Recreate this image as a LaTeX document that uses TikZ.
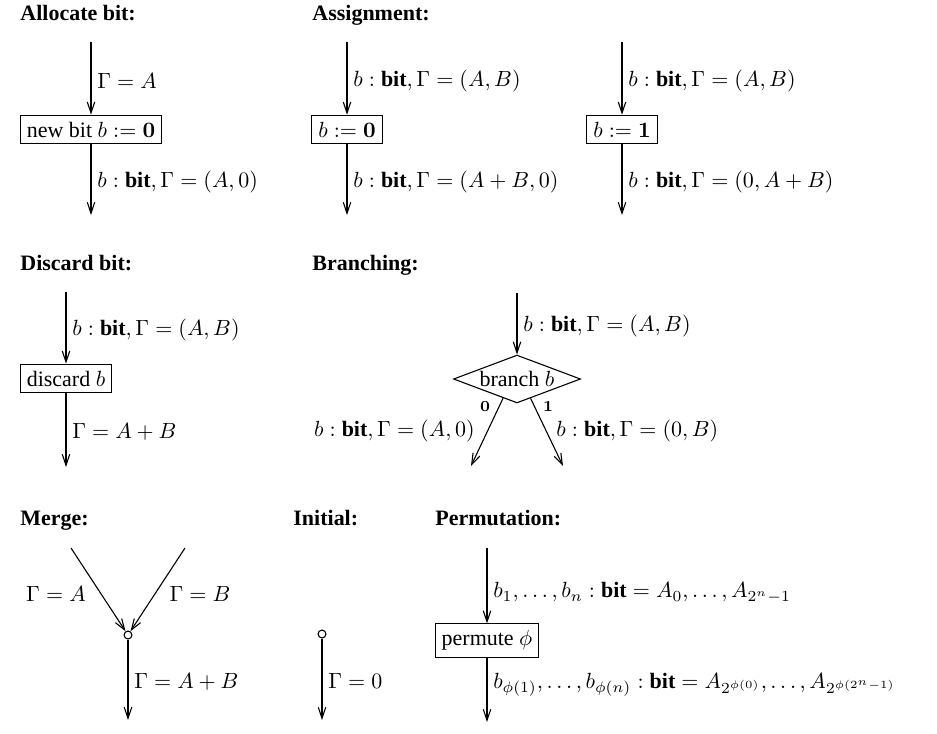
\documentclass[tikz,border=0pt]{standalone}
\usepackage[no-math]{fontspec}
\setmainfont{Liberation Serif}
\usetikzlibrary{arrows.meta,shapes.geometric}
\tikzset{
  hdr/.style={anchor=base west,inner sep=0pt,font=\bfseries},
  box/.style={draw,rectangle,inner sep=3pt,line width=0.5pt},
  dia/.style={draw,diamond,aspect=2.6,inner sep=0pt,minimum width=57.8pt,minimum height=21.8pt,line width=0.5pt},
  arr/.style={-{Straight Barb[length=5pt,width=3.4pt]},line width=0.5pt},
  lbl/.style={midway,right,inner sep=2.6pt,yshift=-1pt},
  dot/.style={draw,circle,inner sep=0pt,minimum size=3.6pt,line width=0.5pt,fill=white},
}
\begin{document}
\begin{tikzpicture}[x=0.455pt,y=-0.455pt]
\path[use as bounding box] (0,0) rectangle (937,733);
% Row 1: Allocate bit
\node[hdr] (h1) at (20,21) {Allocate bit:};
\coordinate (a0) at (91,42);
\node[box] (a1) at (91,129.5) {new bit $b := \mathbf{0}$};
\coordinate (a2) at (91,215);
\draw[arr] (a0) -- node[lbl]{$\Gamma = A$} (a1);
\draw[arr] (a1) -- node[lbl]{$b : \textbf{bit}, \Gamma = (A, 0)$} (a2);
% Assignment
\node[hdr] (h2) at (312,21) {Assignment:};
\coordinate (b0) at (347,42);
\node[box] (b1) at (347,129.5) {$b := \mathbf{0}$};
\coordinate (b2) at (347,215);
\draw[arr] (b0) -- node[lbl]{$b : \textbf{bit}, \Gamma = (A, B)$} (b1);
\draw[arr] (b1) -- node[lbl]{$b : \textbf{bit}, \Gamma = (A + B, 0)$} (b2);
\coordinate (c0) at (622,42);
\node[box] (c1) at (622,129.5) {$b := \mathbf{1}$};
\coordinate (c2) at (622,215);
\draw[arr] (c0) -- node[lbl]{$b : \textbf{bit}, \Gamma = (A, B)$} (c1);
\draw[arr] (c1) -- node[lbl]{$b : \textbf{bit}, \Gamma = (0, A + B)$} (c2);
% Row 2: Discard bit
\node[hdr] (h3) at (20,270) {Discard bit:};
\coordinate (d0) at (66,292);
\node[box] (d1) at (66,378.5) {discard $b$};
\coordinate (d2) at (66,467);
\draw[arr] (d0) -- node[lbl]{$b : \textbf{bit}, \Gamma = (A, B)$} (d1);
\draw[arr] (d1) -- node[lbl]{$\Gamma = A + B$} (d2);
% Branching
\node[hdr] (h4) at (312,270) {Branching:};
\coordinate (e0) at (517,293);
\node[dia] (e1) at (517,379) {branch $b$};
\coordinate (eL) at (471,466);
\coordinate (eR) at (563,466);
\draw[arr] (e0) -- node[lbl]{$b : \textbf{bit}, \Gamma = (A, B)$} (e1);
\draw[arr] (e1.234.6) -- (eL);
\draw[arr] (e1.305.4) -- (eR);
\node (z0) at (485,407) {$\scriptstyle\mathbf{0}$};
\node (z1) at (548,407) {$\scriptstyle\mathbf{1}$};
\node[anchor=east,inner sep=0pt] (lL) at (475,431) {$b : \textbf{bit}, \Gamma = (A, 0)$};
\node[anchor=west,inner sep=0pt] (lR) at (556,431) {$b : \textbf{bit}, \Gamma = (0, B)$};
% Row 3: Merge
\node[hdr] (h5) at (20,525) {Merge:};
\coordinate (m0) at (71,548);
\coordinate (m1) at (185,548);
\node[dot] (m) at (128,635) {};
\coordinate (m2) at (128,720);
\draw[arr] (m0) -- (m);
\draw[arr] (m1) -- (m);
\draw[arr] (m) -- node[lbl]{$\Gamma = A + B$} (m2);
\node (mA) at (56,594) {$\Gamma = A$};
\node (mB) at (200,594) {$\Gamma = B$};
% Initial
\node[hdr] (h6) at (293,525) {Initial:};
\node[dot] (i) at (322,634) {};
\coordinate (i2) at (322,720);
\draw[arr] (i) -- node[lbl]{$\Gamma = 0$} (i2);
% Permutation
\node[hdr] (h7) at (435,525) {Permutation:};
\coordinate (p0) at (487,548);
\node[box] (p1) at (487,640.5) {permute $\phi$};
\coordinate (p2) at (487,722);
\draw[arr] (p0) -- node[lbl,yshift=-2.2pt]{$b_1, \ldots, b_n : \textbf{bit} = A_0, \ldots, A_{2^n-1}$} (p1);
\draw[arr] (p1) -- node[lbl,yshift=3.5pt]{$b_{\phi(1)}, \ldots, b_{\phi(n)} : \textbf{bit} = A_{2^{\phi(0)}}, \ldots, A_{2^{\phi(2^n-1)}}$} (p2);
\end{tikzpicture}
\end{document}
